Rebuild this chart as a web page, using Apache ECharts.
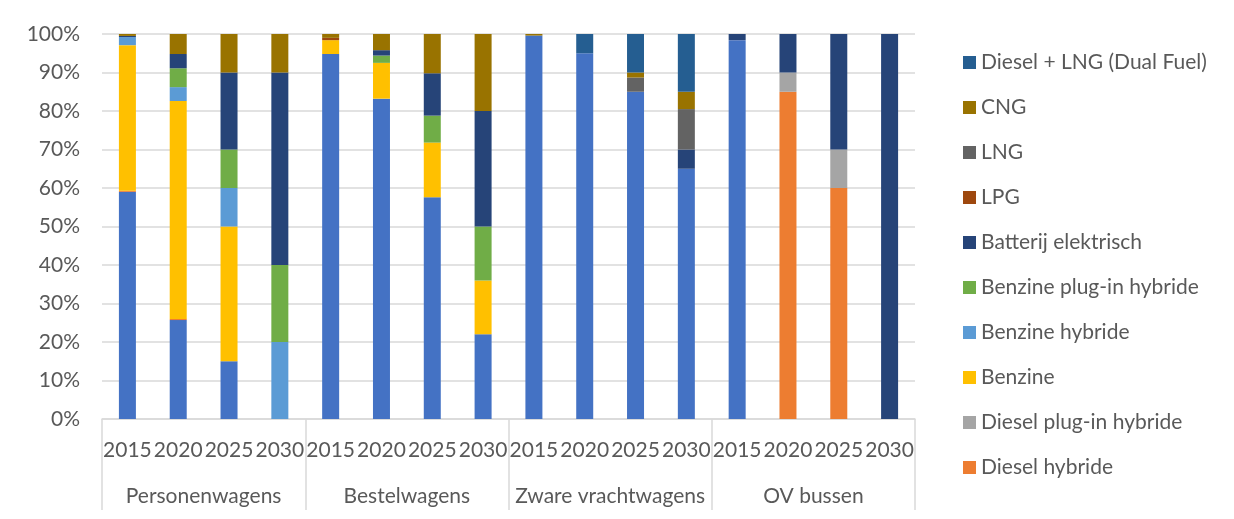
<!DOCTYPE html>
<html>
<head>
<meta charset="utf-8">
<title>Aandeel aandrijvingen</title>
<script src="https://cdn.jsdelivr.net/npm/echarts@6/dist/echarts.min.js"></script>
<style>
    html, body {
        margin: 0;
        padding: 0;
        background: #ffffff;
    }
    #chart {
        width: 1234px;
        height: 519px;
    }
</style>
</head>
<body>
<div id="chart"></div>
<script>
// categorieen
const groups = ['Personenwagens', 'Bestelwagens', 'Zware vrachtwagens', 'OV bussen'];
const years = ['2015', '2020', '2025', '2030', '2015', '2020', '2025', '2030',
    '2015', '2020', '2025', '2030', '2015', '2020', '2025', '2030'];
const yTicks = [0, 10, 20, 30, 40, 50, 60, 70, 80, 90, 100];

// aandeel per aandrijving (%), zelfde volgorde als years
const diesel          = [59.0, 25.7, 15, 0, 94.8, 83.2, 57.6, 22, 99.6, 95, 85, 65, 98.4, 0, 0, 0];
const dieselHybride   = [0.3, 0.3, 0, 0, 0, 0, 0, 0, 0, 0, 0, 0, 0, 85, 60, 0];
const dieselPlugin    = [0, 0, 0, 0, 0, 0, 0, 0, 0, 0, 0, 0, 0, 5, 10, 0];
const benzine         = [37.8, 56.6, 35, 0, 3.6, 9.3, 14.2, 14, 0, 0, 0, 0, 0, 0, 0, 0];
const benzineHybride  = [2.1, 3.6, 10, 20, 0, 0, 0, 0, 0, 0, 0, 0, 0, 0, 0, 0];
const benzinePlugin   = [0, 4.9, 10, 20, 0, 1.9, 7, 14, 0, 0, 0, 0, 0, 0, 0, 0];
const batterij        = [0.3, 3.7, 20, 50, 0, 1.4, 11, 30, 0, 0, 0, 5, 1.6, 10, 30, 100];
const lpg             = [0, 0, 0, 0, 0.6, 0, 0, 0, 0, 0, 0, 0, 0, 0, 0, 0];
const lng             = [0, 0, 0, 0, 0, 0, 0, 0, 0, 0, 3.7, 10.5, 0, 0, 0, 0];
const cng             = [0.5, 5.2, 10, 10, 1.0, 4.2, 10.2, 20, 0.4, 0, 1.3, 4.5, 0, 0, 0, 0];
const dualFuel        = [0, 0, 0, 0, 0, 0, 0, 0, 0, 5, 10, 15, 0, 0, 0, 0];

const seriesDefs = [
    { name: 'Diesel', data: diesel, color: '#4472C4' },
    { name: 'Diesel hybride', data: dieselHybride, color: '#ED7D31' },
    { name: 'Diesel plug-in hybride', data: dieselPlugin, color: '#A5A5A5' },
    { name: 'Benzine', data: benzine, color: '#FFC000' },
    { name: 'Benzine hybride', data: benzineHybride, color: '#5B9BD5' },
    { name: 'Benzine plug-in hybride', data: benzinePlugin, color: '#70AD47' },
    { name: 'Batterij elektrisch', data: batterij, color: '#264478' },
    { name: 'LPG', data: lpg, color: '#9E480E' },
    { name: 'LNG', data: lng, color: '#636363' },
    { name: 'CNG', data: cng, color: '#997300' },
    { name: 'Diesel + LNG (Dual Fuel)', data: dualFuel, color: '#255E91' }
];

// legenda van boven naar beneden (Diesel valt buiten beeld)
const legendNames = seriesDefs.slice(1).map(s => s.name).reverse();

const fontFamily = 'Lato';
const textColor = '#595959';
const lineColor = '#D9D9D9';

const chart = echarts.init(document.getElementById('chart'));
chart.setOption({
    animation: false,
    grid: {
        left: 102,
        right: 319,
        top: 34,
        height: 385
    },
    legend: {
        data: legendNames,
        orient: 'vertical',
        left: 958,
        top: 47,
        itemWidth: 13,
        itemHeight: 13,
        itemGap: 24,
        icon: 'rect',
        textStyle: {
            fontFamily: fontFamily,
            fontSize: 21,
            lineHeight: 21,
            color: textColor
        }
    },
    xAxis: [
        {
            type: 'category',
            data: years,
            axisLine: { show: true, lineStyle: { color: lineColor, width: 1.5 } },
            axisTick: { show: false },
            axisLabel: {
                interval: 0,
                margin: 21,
                fontFamily: fontFamily,
                fontSize: 21,
                color: textColor
            }
        },
        {
            type: 'category',
            data: groups,
            position: 'bottom',
            axisLine: { show: false },
            axisTick: {
                show: true,
                interval: 0,
                length: 91,
                lineStyle: { color: lineColor, width: 1.5 }
            },
            axisLabel: {
                interval: 0,
                margin: 67,
                fontFamily: fontFamily,
                fontSize: 21,
                color: textColor
            }
        }
    ],
    yAxis: {
        type: 'value',
        min: yTicks[0],
        max: yTicks[yTicks.length - 1],
        interval: 10,
        axisLine: { show: false },
        axisTick: { show: false },
        axisLabel: {
            margin: 22,
            formatter: '{value}%',
            fontFamily: fontFamily,
            fontSize: 21,
            color: textColor
        },
        splitLine: { lineStyle: { color: lineColor, width: 1.5 } }
    },
    series: seriesDefs.map(s => ({
        name: s.name,
        type: 'bar',
        stack: 'totaal',
        barWidth: 17,
        xAxisIndex: 0,
        data: s.data,
        itemStyle: { color: s.color }
    }))
});
</script>
</body>
</html>
